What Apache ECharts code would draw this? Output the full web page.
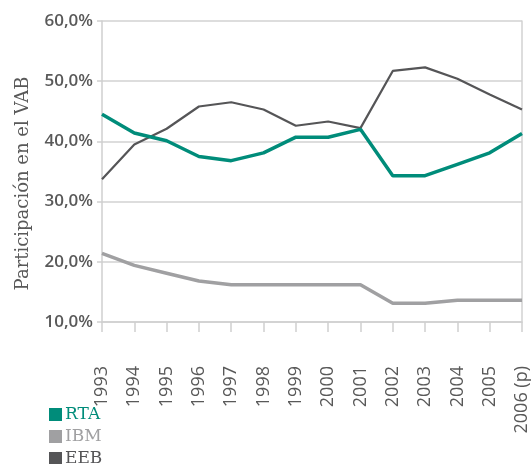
<!DOCTYPE html>
<html>
<head>
<meta charset="utf-8">
<script src="https://cdn.jsdelivr.net/npm/echarts@6/dist/echarts.min.js"></script>
<style>
  html, body { margin: 0; padding: 0; background: #fff; }
  #chart { width: 531px; height: 464px; }
</style>
</head>
<body>
<div id="chart"></div>
<script>
// years on the x axis
var years = ['1993', '1994', '1995', '1996', '1997', '1998', '1999',
             '2000', '2001', '2002', '2003', '2004', '2005', '2006 (p)'];

// share of VAB, %
var rta = [44.5, 41.4, 40.1, 37.5, 36.8, 38.1, 40.7, 40.7, 42.0, 34.3, 34.3, 36.2, 38.1, 41.3];
var ibm = [21.4, 19.4, 18.1, 16.8, 16.2, 16.2, 16.2, 16.2, 16.2, 13.1, 13.1, 13.6, 13.6, 13.6];
var eeb = [33.7, 39.5, 42.1, 45.8, 46.5, 45.3, 42.6, 43.3, 42.2, 51.7, 52.3, 50.4, 47.8, 45.3];

var seriesNames = ['RTA', 'IBM', 'EEB'];

var C_RTA = '#008c7a';
var C_IBM = '#a0a0a2';
var C_EEB = '#555557';
var colors = [C_RTA, C_IBM, C_EEB];
var SERIF = 'DejaVu Serif';
var SANS = 'Open Sans';

// one legend per entry so they stack down the bottom-left corner
var legends = seriesNames.map(function (n, i) {
    return {
        orient: 'vertical',
        left: 49,
        top: 406 + i * 22,
        padding: 0,
        icon: 'rect',
        itemWidth: 13,
        itemHeight: 13,
        data: [n],
        textStyle: {
            fontFamily: SERIF, fontSize: 17, color: colors[i],
            padding: [0, 0, 0, -2]
        }
    };
});

var myChart = echarts.init(document.getElementById('chart'));

var option = {
    animation: false,
    textStyle: { fontFamily: SERIF },
    grid: { left: 102, right: 7, top: 21, bottom: 142 },
    legend: legends,
    xAxis: {
        type: 'category',
        data: years,
        boundaryGap: false,
        axisLine: { lineStyle: { color: '#cfcfcf', width: 1.5 } },
        axisTick: { length: 10, lineStyle: { color: '#cfcfcf', width: 1.5 } },
        axisLabel: {
            rotate: 90,
            margin: 44,
            color: '#595959',
            fontFamily: SANS,
            fontSize: 18,
            interval: 0
        },
        splitLine: { show: false }
    },
    yAxis: [{
        type: 'value',
        min: 10,
        max: 60,
        interval: 10,
        name: 'Participación en el VAB',
        nameLocation: 'middle',
        nameRotate: 90,
        nameGap: 70,
        nameTextStyle: {
            color: '#595959', fontFamily: SERIF, fontSize: 18,
            padding: [0, 24, 0, 0]
        },
        axisLine: { show: true, lineStyle: { color: '#cfcfcf', width: 1.5 } },
        axisTick: { show: true, length: 5, lineStyle: { color: '#cfcfcf', width: 1.5 } },
        axisLabel: {
            margin: 9,
            color: '#595959',
            fontFamily: SANS,
            fontSize: 17,
            fontWeight: 600,
            formatter: function (v) { return v.toFixed(1).replace('.', ',') + '%'; }
        },
        splitLine: { lineStyle: { color: '#d2d2d2', width: 1.5 } }
    }, {
        // right border of the plot
        type: 'value',
        position: 'right',
        min: 10,
        max: 60,
        interval: 10,
        axisLine: { show: true, lineStyle: { color: '#d2d2d2', width: 1.5 } },
        axisTick: { show: false },
        axisLabel: { show: false },
        splitLine: { show: false }
    }],
    series: [
        {
            name: 'RTA', type: 'line', data: rta, symbol: 'none',
            itemStyle: { color: C_RTA },
            lineStyle: { color: C_RTA, width: 3.5 }, z: 5
        },
        {
            name: 'IBM', type: 'line', data: ibm, symbol: 'none',
            itemStyle: { color: C_IBM },
            lineStyle: { color: C_IBM, width: 3.5 }, z: 3
        },
        {
            name: 'EEB', type: 'line', data: eeb, symbol: 'none',
            itemStyle: { color: C_EEB },
            lineStyle: { color: C_EEB, width: 2.2 }, z: 4
        }
    ]
};

myChart.setOption(option);
</script>
</body>
</html>
